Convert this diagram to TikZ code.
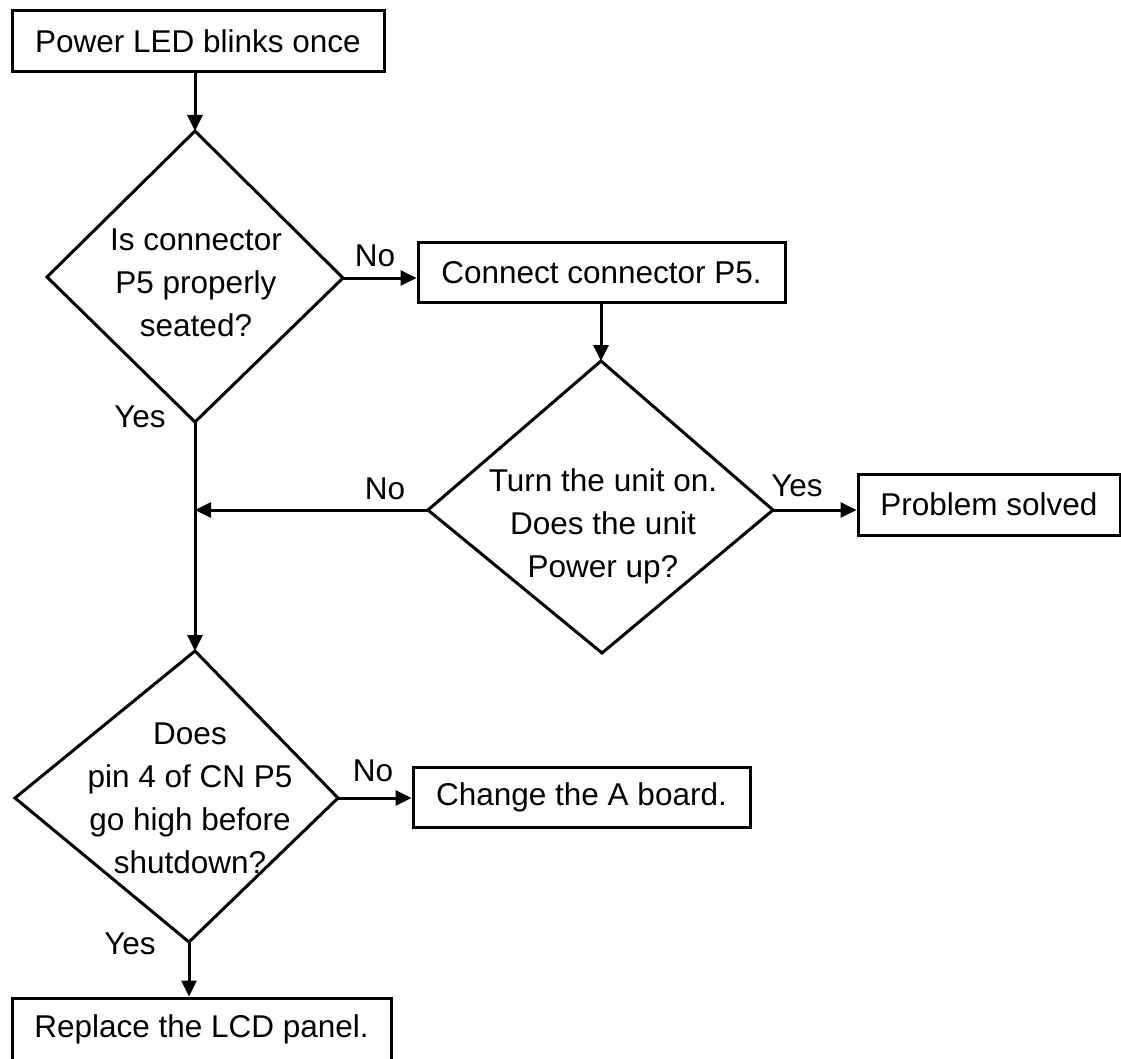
\documentclass[tikz,border=0pt]{standalone}
\usepackage{fontspec}
\setmainfont{Liberation Sans}
\usetikzlibrary{arrows.meta}
\begin{document}
\begin{tikzpicture}[x=1pt,y=-1pt,
  txt/.style={font=\fontsize{31.5}{43}\selectfont, align=center, inner sep=0pt},
  stepbox/.style={draw, line width=3pt, inner sep=0pt, font=\fontsize{31.5}{43}\selectfont},
  dia/.style={draw, line width=3pt, line join=miter},
  conn/.style={line width=3pt},
  arr/.style={conn, -{Triangle[length=16pt,width=15pt]}},
  lbl/.style={font=\fontsize{31.5}{43}\selectfont, inner sep=0pt}]
\useasboundingbox (0,0) rectangle (1121,1059);
\fill[white] (0,0) rectangle (1121,1059);

% boxes
\node[stepbox, minimum width=372pt, minimum height=61pt] (b1) at (198,41.5) {Power LED blinks once};
\node[stepbox, minimum width=367pt, minimum height=59pt] (b2) at (601.5,272.5) {Connect connector P5.};
\node[stepbox, minimum width=262pt, minimum height=61pt] (b3) at (989,504.5) {Problem solved};
\node[stepbox, minimum width=337pt, minimum height=60pt] (b4) at (581.5,797) {Change the A board.};
\node[stepbox, minimum width=379pt, minimum height=62pt] (b5) at (201.5,1029) {Replace the LCD panel.};

% diamond 1
\coordinate (d1t) at (195,131);
\coordinate (d1l) at (47,277);
\coordinate (d1r) at (343,278);
\coordinate (d1b) at (195,422);
\draw[dia] (d1t) -- (d1r) -- (d1b) -- (d1l) -- cycle;
\node[txt] (d1) at (196,283) {Is connector\\P5 properly\\seated?};

% diamond 2
\coordinate (d2t) at (601,361);
\coordinate (d2l) at (428,510);
\coordinate (d2r) at (773,510);
\coordinate (d2b) at (602,653);
\draw[dia] (d2t) -- (d2r) -- (d2b) -- (d2l) -- cycle;
\node[txt] (d2) at (603,526) {Turn the unit on.\\Does the unit\\Power up?};

% diamond 3
\coordinate (d3t) at (195,651);
\coordinate (d3l) at (15,798);
\coordinate (d3r) at (338,798);
\coordinate (d3b) at (189,942);
\draw[dia] (d3t) -- (d3r) -- (d3b) -- (d3l) -- cycle;
\node[txt] (d3) at (190,798) {Does\\pin 4 of CN P5\\go high before\\shutdown?};

% junction
\coordinate (j) at (195,510);

% connectors
\draw[arr] (b1.south -| d1t) -- (d1t);
\draw[arr] (d1r) -- (d1r -| b2.west);
\draw[arr] (b2.south -| d2t) -- (d2t);
\draw[arr] (d2r) -- (d2r -| b3.west);
\draw[arr] (d2l) -- (j);
\draw[arr] (d1b) -- (d3t);
\draw[arr] (d3r) -- (d3r -| b4.west);
\draw[arr] (d3b) -- (d3b |- b5.north);

% labels
\node[lbl] (l1) at (375,256) {No};
\node[lbl] (l2) at (140,417) {Yes};
\node[lbl] (l3) at (385,489) {No};
\node[lbl] (l4) at (797,486) {Yes};
\node[lbl] (l5) at (373,771) {No};
\node[lbl] (l6) at (130,944) {Yes};
\end{tikzpicture}
\end{document}
